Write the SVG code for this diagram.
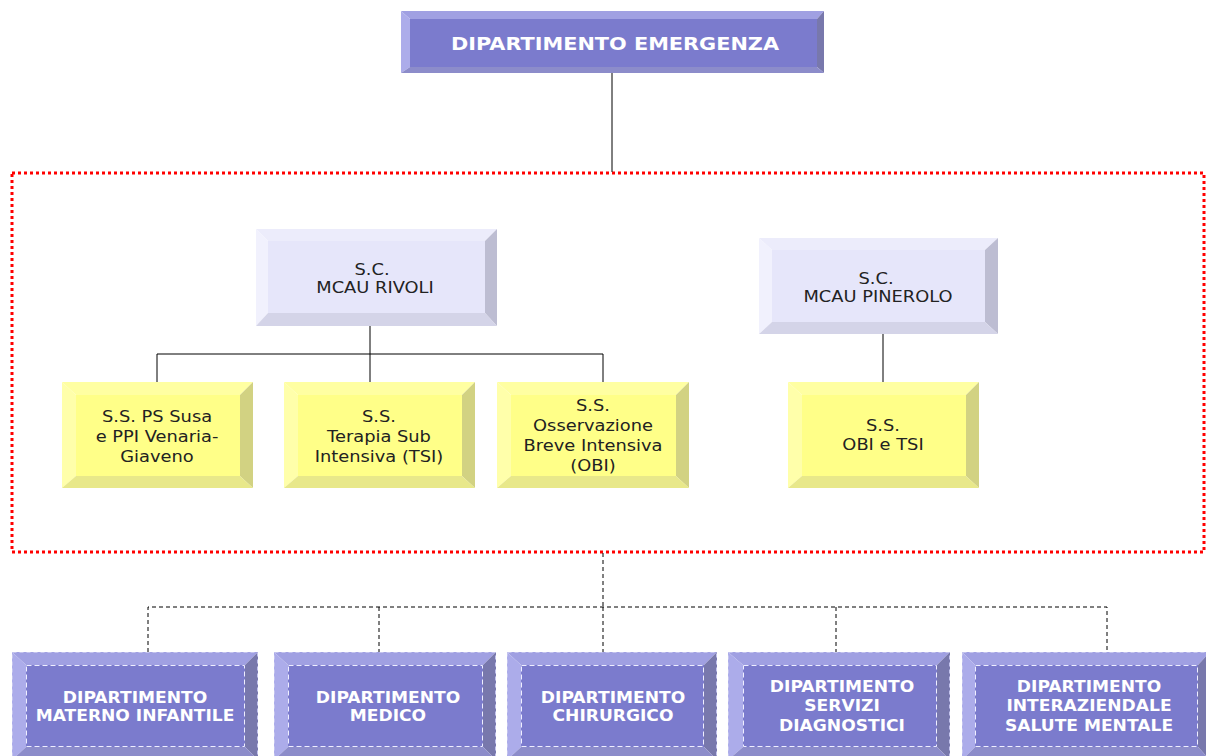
<svg xmlns="http://www.w3.org/2000/svg" width="1206" height="756" viewBox="0 0 1206 756">
<defs>
<style>
.bg{fill:#ffffff}
.pT{fill:#a0a0e2}.pL{fill:#acacea}.pR{fill:#7878ac}.pB{fill:#8c8cca}.pF{fill:#7b7bcd}
.lT{fill:#ececfb}.lL{fill:#f1f1fd}.lR{fill:#bdbdd2}.lB{fill:#d4d4e8}.lF{fill:#e6e6fa}
.yT{fill:#ffffa2}.yL{fill:#ffffaa}.yR{fill:#d2d282}.yB{fill:#e8e88a}.yF{fill:#ffff88}
.dOut{fill:none;stroke:#c4c4ee;stroke-width:1;stroke-dasharray:4 3}
.dIn{fill:none;stroke:#eeeeff;stroke-width:1;stroke-dasharray:5 3}
.tW{font-family:"DejaVu Sans",Verdana,sans-serif;font-weight:bold;fill:#ffffff;text-anchor:middle}
.tD{font-family:"DejaVu Sans",Verdana,sans-serif;fill:#222222;text-anchor:middle;font-size:15px}
.line{fill:none;stroke:#000000;stroke-width:1}
.dash{fill:none;stroke:#000000;stroke-width:1;stroke-dasharray:4 3}
.red{fill:none;stroke:#ff0000;stroke-width:3;stroke-dasharray:3 3}
</style>
</defs>
<rect class="bg" x="0" y="0" width="1206" height="756"/>

<rect id="group-border" class="red" x="12" y="173" width="1192" height="379"/>

<g id="connectors">
<line class="line" x1="612" y1="73" x2="612" y2="172"/>
<line class="line" x1="370" y1="326" x2="370" y2="354"/>
<polyline class="line" points="157,382 157,354 603,354 603,382"/>
<line class="line" x1="370" y1="354" x2="370" y2="382"/>
<line class="line" x1="883" y1="334" x2="883" y2="382"/>
<line class="dash" x1="603" y1="553" x2="603" y2="607"/>
<polyline class="dash" points="148,652 148,607 1107,607 1107,652"/>
<line class="dash" x1="379" y1="607" x2="379" y2="652"/>
<line class="dash" x1="603" y1="607" x2="603" y2="652"/>
<line class="dash" x1="836" y1="607" x2="836" y2="652"/>
</g>

<g id="dip-emergenza">
<polygon class="pT" points="401,11 824,11 817,19 410,19"/>
<polygon class="pL" points="401,11 410,19 410,67 401,73"/>
<polygon class="pR" points="824,11 824,73 817,67 817,19"/>
<polygon class="pB" points="401,73 410,67 817,67 824,73"/>
<rect class="pF" x="410" y="19" width="407" height="48"/>
<text class="tW" font-size="17.5" transform="translate(615,49.5) scale(1.19,1)">DIPARTIMENTO EMERGENZA</text>
</g>

<g id="sc-rivoli">
<polygon class="lT" points="256,229 497,229 485,241 268,241"/>
<polygon class="lL" points="256,229 268,241 268,313 256,326"/>
<polygon class="lR" points="497,229 497,326 485,313 485,241"/>
<polygon class="lB" points="256,326 268,313 485,313 497,326"/>
<rect class="lF" x="268" y="241" width="217" height="72"/>
<text class="tD" transform="translate(372,275) scale(1.19,1)">S.C.</text>
<text class="tD" transform="translate(375,293) scale(1.19,1)">MCAU RIVOLI</text>
</g>

<g id="sc-pinerolo">
<polygon class="lT" points="759,238 998,238 985,250 772,250"/>
<polygon class="lL" points="759,238 772,250 772,322 759,334"/>
<polygon class="lR" points="998,238 998,334 985,322 985,250"/>
<polygon class="lB" points="759,334 772,322 985,322 998,334"/>
<rect class="lF" x="772" y="250" width="213" height="72"/>
<text class="tD" transform="translate(876,284) scale(1.19,1)">S.C.</text>
<text class="tD" transform="translate(878,302) scale(1.19,1)">MCAU PINEROLO</text>
</g>

<g id="ss-susa">
<polygon class="yT" points="62,382 253,382 240,395 76,395"/>
<polygon class="yL" points="62,382 76,395 76,476 62,488"/>
<polygon class="yR" points="253,382 253,488 240,476 240,395"/>
<polygon class="yB" points="62,488 76,476 240,476 253,488"/>
<rect class="yF" x="76" y="395" width="164" height="81"/>
<text class="tD" transform="translate(157,422) scale(1.19,1)">S.S. PS Susa</text>
<text class="tD" transform="translate(157,442) scale(1.19,1)">e PPI Venaria-</text>
<text class="tD" transform="translate(157,462) scale(1.19,1)">Giaveno</text>
</g>

<g id="ss-tsi">
<polygon class="yT" points="284,382 475,382 462,395 298,395"/>
<polygon class="yL" points="284,382 298,395 298,476 284,488"/>
<polygon class="yR" points="475,382 475,488 462,476 462,395"/>
<polygon class="yB" points="284,488 298,476 462,476 475,488"/>
<rect class="yF" x="298" y="395" width="164" height="81"/>
<text class="tD" transform="translate(379,422) scale(1.19,1)">S.S.</text>
<text class="tD" transform="translate(379,442) scale(1.19,1)">Terapia Sub</text>
<text class="tD" transform="translate(379,462) scale(1.19,1)">Intensiva (TSI)</text>
</g>

<g id="ss-obi">
<polygon class="yT" points="497,382 689,382 676,395 511,395"/>
<polygon class="yL" points="497,382 511,395 511,476 497,488"/>
<polygon class="yR" points="689,382 689,488 676,476 676,395"/>
<polygon class="yB" points="497,488 511,476 676,476 689,488"/>
<rect class="yF" x="511" y="395" width="165" height="81"/>
<text class="tD" transform="translate(593,411) scale(1.19,1)">S.S.</text>
<text class="tD" transform="translate(593,431) scale(1.19,1)">Osservazione</text>
<text class="tD" transform="translate(593,451) scale(1.19,1)">Breve Intensiva</text>
<text class="tD" transform="translate(593,471) scale(1.19,1)">(OBI)</text>
</g>

<g id="ss-obi-tsi">
<polygon class="yT" points="788,382 979,382 966,395 802,395"/>
<polygon class="yL" points="788,382 802,395 802,476 788,488"/>
<polygon class="yR" points="979,382 979,488 966,476 966,395"/>
<polygon class="yB" points="788,488 802,476 966,476 979,488"/>
<rect class="yF" x="802" y="395" width="164" height="81"/>
<text class="tD" transform="translate(883,431) scale(1.19,1)">S.S.</text>
<text class="tD" transform="translate(883,450) scale(1.19,1)">OBI e TSI</text>
</g>

<g id="dip-materno">
<polygon class="pT" points="12,652 258,652 245,665 26,665"/>
<polygon class="pL" points="12,652 26,665 26,747 12,760"/>
<polygon class="pR" points="258,652 258,760 245,747 245,665"/>
<polygon class="pB" points="12,760 26,747 245,747 258,760"/>
<rect class="pF" x="26" y="665" width="219" height="82"/>
<rect class="dOut" x="12.5" y="652.5" width="245" height="108"/>
<rect class="dIn" x="26.5" y="665.5" width="218" height="81"/>
<text class="tW" font-size="15" transform="translate(135,703) scale(1.14,1)">DIPARTIMENTO</text>
<text class="tW" font-size="15" transform="translate(135,721) scale(1.14,1)">MATERNO INFANTILE</text>
</g>

<g id="dip-medico">
<polygon class="pT" points="274,652 496,652 483,665 288,665"/>
<polygon class="pL" points="274,652 288,665 288,747 274,760"/>
<polygon class="pR" points="496,652 496,760 483,747 483,665"/>
<polygon class="pB" points="274,760 288,747 483,747 496,760"/>
<rect class="pF" x="288" y="665" width="195" height="82"/>
<rect class="dOut" x="274.5" y="652.5" width="221" height="108"/>
<rect class="dIn" x="288.5" y="665.5" width="194" height="81"/>
<text class="tW" font-size="15" transform="translate(388,703) scale(1.14,1)">DIPARTIMENTO</text>
<text class="tW" font-size="15" transform="translate(388,721) scale(1.14,1)">MEDICO</text>
</g>

<g id="dip-chirurgico">
<polygon class="pT" points="507,652 717,652 704,665 521,665"/>
<polygon class="pL" points="507,652 521,665 521,747 507,760"/>
<polygon class="pR" points="717,652 717,760 704,747 704,665"/>
<polygon class="pB" points="507,760 521,747 704,747 717,760"/>
<rect class="pF" x="521" y="665" width="183" height="82"/>
<rect class="dOut" x="507.5" y="652.5" width="209" height="108"/>
<rect class="dIn" x="521.5" y="665.5" width="182" height="81"/>
<text class="tW" font-size="15" transform="translate(613,703) scale(1.14,1)">DIPARTIMENTO</text>
<text class="tW" font-size="15" transform="translate(613,721) scale(1.14,1)">CHIRURGICO</text>
</g>

<g id="dip-servizi">
<polygon class="pT" points="728,652 950,652 937,665 743,665"/>
<polygon class="pL" points="728,652 743,665 743,747 728,760"/>
<polygon class="pR" points="950,652 950,760 937,747 937,665"/>
<polygon class="pB" points="728,760 743,747 937,747 950,760"/>
<rect class="pF" x="743" y="665" width="194" height="82"/>
<rect class="dOut" x="728.5" y="652.5" width="221" height="108"/>
<rect class="dIn" x="743.5" y="665.5" width="193" height="81"/>
<text class="tW" font-size="15" transform="translate(842,692) scale(1.14,1)">DIPARTIMENTO</text>
<text class="tW" font-size="15" transform="translate(842,711) scale(1.14,1)">SERVIZI</text>
<text class="tW" font-size="15" transform="translate(842,731) scale(1.14,1)">DIAGNOSTICI</text>
</g>

<g id="dip-salute-mentale">
<polygon class="pT" points="962,652 1210,652 1198,665 975,665"/>
<polygon class="pL" points="962,652 975,665 975,747 962,760"/>
<polygon class="pR" points="1210,652 1210,760 1198,747 1198,665"/>
<polygon class="pB" points="962,760 975,747 1198,747 1210,760"/>
<rect class="pF" x="975" y="665" width="223" height="82"/>
<rect class="dOut" x="962.5" y="652.5" width="247" height="108"/>
<rect class="dIn" x="975.5" y="665.5" width="222" height="81"/>
<text class="tW" font-size="15" transform="translate(1089,692) scale(1.14,1)">DIPARTIMENTO</text>
<text class="tW" font-size="15" transform="translate(1089,711) scale(1.14,1)">INTERAZIENDALE</text>
<text class="tW" font-size="15" transform="translate(1089,731) scale(1.14,1)">SALUTE MENTALE</text>
</g>
</svg>
